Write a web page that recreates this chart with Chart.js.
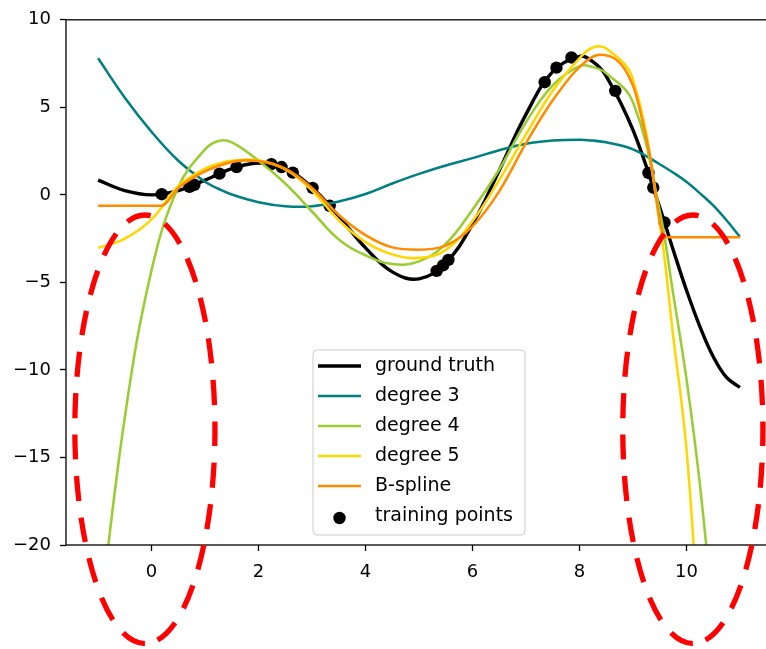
<!DOCTYPE html>
<html>
<head>
<meta charset="utf-8">
<script src="https://cdn.jsdelivr.net/npm/chart.js@4.4.1/dist/chart.umd.min.js"></script>
<style>
  html, body { margin: 0; padding: 0; background: #ffffff; overflow: hidden; }
  #wrap { width: 800px; height: 649px; }
</style>
</head>
<body>
<div id="wrap"><canvas id="chart" width="800" height="649"></canvas></div>
<script>
// Sample positions shared by the ground truth and the polynomial fits
const xs = [-1, -0.5, 0, 0.5, 1, 1.25, 1.5, 2, 2.5, 3, 3.5, 4, 4.5, 5, 5.5, 6, 6.5, 7, 7.5, 8, 8.25, 8.5, 9, 9.5, 9.75, 10, 10.25, 10.5, 10.75, 11];

// f(x) = x sin(x)
const groundTruth = [0.841, 0.240, 0, 0.240, 0.841, 1.186, 1.496, 1.819, 1.496, 0.423, -1.228, -3.027, -4.399, -4.795, -3.880, -1.676, 1.398, 4.599, 7.035, 7.915, 7.609, 6.787, 3.709, -0.715, -3.115, -5.440, -7.510, -9.237, -10.431, -11.0];

// Ridge polynomial fits
const degree3 = [7.8, 5.55, 3.6, 1.95, 0.75, 0.35, 0.02, -0.42, -0.65, -0.65, -0.38, 0.05, 0.65, 1.2, 1.68, 2.1, 2.55, 2.92, 3.1, 3.15, 3.1, 3.0, 2.6, 1.75, 1.28, 0.75, 0.1, -0.6, -1.45, -2.4];
const degree4 = [-25.0, -12.7, -4.3, 0.45, 2.6, 3.08, 3.0, 1.95, 0.65, -0.95, -2.55, -3.45, -3.95, -3.8, -2.8, -0.85, 1.45, 4.15, 6.25, 7.35, 7.3, 6.95, 5.3, -0.9, -5.6, -10.5, -16.5, -24.2, -33.0, -43.0];
const degree5 = [-3.03, -2.5, -1.4, 0.5, 1.5, 1.78, 1.95, 1.97, 1.45, 0.25, -1.45, -2.7, -3.4, -3.6, -3.15, -1.5, 0.85, 3.45, 5.95, 7.8, 8.42, 8.36, 6.6, -1.6, -8.0, -14.5, -25.5, -38.0, -55.0, -75.0];

// B-spline fit (constant beyond the training range)
const splineX = [-1, 0.19, 0.5, 1, 1.5, 1.75, 2, 2.5, 3, 3.5, 4, 4.5, 5, 5.5, 6, 6.5, 7, 7.5, 8, 8.38, 9, 9.3, 9.6, 11];
const splineY = [-0.62, -0.62, 0.4, 1.35, 1.88, 1.97, 1.93, 1.5, 0.4, -1.15, -2.3, -3.0, -3.13, -2.9, -1.8, 0.2, 2.95, 5.4, 7.3, 8.0, 6.25, 2.5, -2.42, -2.42];

// Training samples
const trainX = [0.19, 0.71, 0.80, 1.27, 1.59, 2.24, 2.43, 2.64, 3.01, 3.33, 5.33, 5.45, 5.55, 7.35, 7.57, 7.85, 8.67, 9.29, 9.38, 9.59];
const trainY = [0.036, 0.463, 0.574, 1.213, 1.590, 1.757, 1.588, 1.272, 0.395, -0.624, -4.342, -4.030, -3.715, 6.436, 7.267, 7.850, 5.938, 1.250, 0.420, -1.576];

// Axis ticks
const xTicks = [0, 2, 4, 6, 8, 10];
const yTicks = [-20, -15, -10, -5, 0, 5, 10];

// Extrapolation regions outlined in red (data units)
const extrapolationZones = [
  { cx: -0.125, cy: -13.39, rx: 1.31, ry: 12.24 },
  { cx: 10.12, cy: -13.39, rx: 1.31, ry: 12.24 }
];

const FONT = "'DejaVu Sans', sans-serif";
const pairs = (xv, yv) => xv.map((x, i) => ({ x: x, y: yv[i] }));
const fmt = v => (v < 0 ? '\u2212' + Math.abs(v) : String(v));

// Smooth curve through the samples
const curveSet = (label, ys, color, width, order) => ({
  label: label,
  data: pairs(xs, ys),
  showLine: true,
  borderColor: color,
  backgroundColor: color,
  borderWidth: width,
  pointRadius: 0,
  tension: 0.4,
  capBezierPoints: false,
  clip: 0,
  order: order
});

// Piecewise curve with flat ends: monotone keeps the flats level
const splineSet = (label, xv, ys, color, width, order) => ({
  label: label,
  data: pairs(xv, ys),
  showLine: true,
  borderColor: color,
  backgroundColor: color,
  borderWidth: width,
  pointRadius: 0,
  cubicInterpolationMode: 'monotone',
  clip: 0,
  order: order
});

// Frame around the plot area (all four spines)
const framePlugin = {
  id: 'frame',
  afterDatasetsDraw(chart) {
    const { ctx, chartArea: a } = chart;
    ctx.save();
    ctx.strokeStyle = '#000000';
    ctx.lineWidth = 1.3;
    ctx.strokeRect(a.left, a.top, a.right - a.left, a.bottom - a.top);
    ctx.restore();
  }
};

// Legend box at the lower centre of the plot area
const boxLegendPlugin = {
  id: 'boxLegend',
  afterDatasetsDraw(chart) {
    const { ctx, chartArea: a } = chart;
    const items = chart.data.datasets;
    ctx.save();
    ctx.font = '19px ' + FONT;
    const rowH = 30;
    const textW = Math.max(...items.map(d => ctx.measureText(d.label).width));
    const boxW = 62 + textW + 12;
    const boxH = 16 + rowH * (items.length - 1) + 19;
    const x0 = (a.left + a.right) / 2 - boxW / 2;
    const y0 = a.bottom - 10 - boxH;
    const r = 4;
    ctx.beginPath();
    ctx.moveTo(x0 + r, y0);
    ctx.arcTo(x0 + boxW, y0, x0 + boxW, y0 + boxH, r);
    ctx.arcTo(x0 + boxW, y0 + boxH, x0, y0 + boxH, r);
    ctx.arcTo(x0, y0 + boxH, x0, y0, r);
    ctx.arcTo(x0, y0, x0 + boxW, y0, r);
    ctx.closePath();
    ctx.fillStyle = 'rgba(255,255,255,0.8)';
    ctx.fill();
    ctx.strokeStyle = '#cccccc';
    ctx.lineWidth = 1;
    ctx.stroke();
    items.forEach((d, i) => {
      const y = y0 + 16 + i * rowH;
      if (d.showLine) {
        ctx.beginPath();
        ctx.moveTo(x0 + 5, y);
        ctx.lineTo(x0 + 48, y);
        ctx.strokeStyle = d.borderColor;
        ctx.lineWidth = d.borderWidth;
        ctx.stroke();
      } else {
        ctx.beginPath();
        ctx.arc(x0 + 26.5, y + 2, d.pointRadius, 0, Math.PI * 2);
        ctx.fillStyle = d.backgroundColor;
        ctx.fill();
      }
      ctx.fillStyle = '#000000';
      ctx.textBaseline = 'middle';
      ctx.textAlign = 'left';
      ctx.fillText(d.label, x0 + 62, y);
    });
    ctx.restore();
  }
};

// Dashed red ellipses marking the extrapolation regions
const zonesPlugin = {
  id: 'zones',
  afterDraw(chart) {
    const { ctx, scales } = chart;
    const sx = scales.x, sy = scales.y;
    ctx.save();
    ctx.strokeStyle = '#ff0000';
    ctx.lineWidth = 5.3;
    ctx.setLineDash([25, 16.5]);
    extrapolationZones.forEach(z => {
      const cx = sx.getPixelForValue(z.cx);
      const cy = sy.getPixelForValue(z.cy);
      const rx = Math.abs(sx.getPixelForValue(z.cx + z.rx) - cx);
      const ry = Math.abs(sy.getPixelForValue(z.cy + z.ry) - cy);
      ctx.beginPath();
      ctx.ellipse(cx, cy, rx, ry, 0, Math.PI / 2, Math.PI / 2 + Math.PI * 2);
      ctx.stroke();
    });
    ctx.restore();
  }
};

const tickFont = { family: FONT, size: 18 };

new Chart(document.getElementById('chart'), {
  type: 'scatter',
  data: {
    datasets: [
      curveSet('ground truth', groundTruth, '#000000', 3.4, 5),
      curveSet('degree 3', degree3, '#008080', 2.55, 4),
      curveSet('degree 4', degree4, '#9acd32', 2.55, 3),
      curveSet('degree 5', degree5, '#ffd700', 2.55, 2),
      splineSet('B-spline', splineX, splineY, '#ff8c00', 2.55, 1),
      {
        label: 'training points',
        data: pairs(trainX, trainY),
        showLine: false,
        pointRadius: 6.2,
        pointBorderWidth: 0,
        backgroundColor: '#000000',
        borderColor: '#000000',
        clip: 0,
        order: 6
      }
    ]
  },
  options: {
    responsive: false,
    animation: false,
    devicePixelRatio: 1,
    events: [],
    layout: { padding: { left: 0, right: 28, top: 18, bottom: 0 } },
    plugins: {
      legend: { display: false },
      tooltip: { enabled: false }
    },
    scales: {
      x: {
        type: 'linear',
        min: -1.6,
        max: 11.6,
        afterBuildTicks: s => { s.ticks = xTicks.map(v => ({ value: v })); },
        afterFit: s => { s.height = 104; },
        border: { display: false },
        grid: { display: true, drawOnChartArea: false, drawTicks: true, tickLength: 6, tickColor: '#000000', tickWidth: 1.3 },
        ticks: { font: tickFont, color: '#000000', padding: 11, maxRotation: 0, autoSkip: false, callback: v => fmt(v) }
      },
      y: {
        type: 'linear',
        min: -20,
        max: 10,
        afterBuildTicks: s => { s.ticks = yTicks.map(v => ({ value: v })); },
        afterFit: s => { s.width = 66; },
        border: { display: false },
        grid: { display: true, drawOnChartArea: false, drawTicks: true, tickLength: 6, tickColor: '#000000', tickWidth: 1.3 },
        ticks: { font: tickFont, color: '#000000', padding: 9, autoSkip: false, callback: v => fmt(v) }
      }
    }
  },
  plugins: [framePlugin, boxLegendPlugin, zonesPlugin]
});
</script>
</body>
</html>
